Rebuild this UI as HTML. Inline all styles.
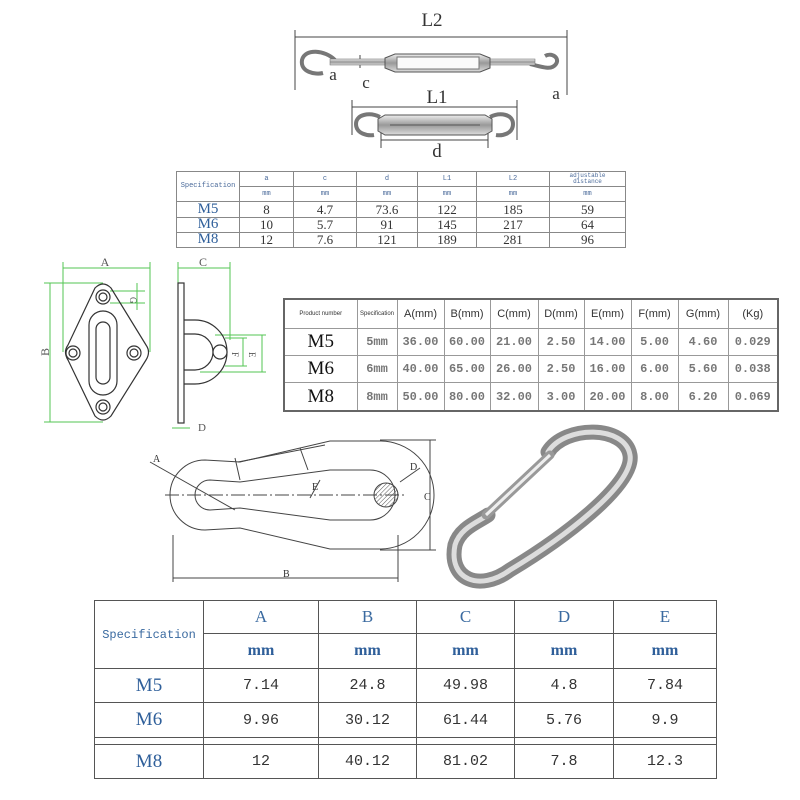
<!DOCTYPE html>
<html><head><meta charset="utf-8"><style>
body{margin:0;width:800px;height:800px;background:#fff;position:relative;overflow:hidden;font-family:"Liberation Serif","Noto Serif CJK SC",serif}
table{position:absolute;border-collapse:collapse;table-layout:fixed}
td{text-align:center;padding:0;overflow:hidden;white-space:nowrap}
#t1 td{border:1px solid #888;font-size:13px;color:#333;line-height:13px}
#t1 .h{color:#4a6a9a;font-family:"Liberation Mono",monospace;font-size:7px;line-height:7px}
#t1 .m{color:#2f5f9a;font-size:15px}
#t2{border:2px solid #666}
#t2 td{border:1px solid #999;font-size:12px;color:#777;font-family:"Liberation Mono",monospace;font-weight:bold}
#t2 .hd{font-family:"Liberation Sans",sans-serif;font-weight:normal;color:#333;font-size:11px}
#t2 .m{font-family:"Liberation Serif",serif;font-weight:normal;color:#111;font-size:19px}
#t3 td{border:1px solid #555;font-size:15px;color:#333;font-family:"Liberation Mono",monospace}
#t3 .h{color:#3a6aa0;font-family:"Liberation Serif",serif;font-size:17px}
#t3 .u{color:#2f5f9a;font-weight:bold;font-family:"Liberation Serif",serif;font-size:16px}
#t3 .m{color:#2f5f9a;font-family:"Liberation Serif",serif;font-size:19px}
</style></head><body>
<svg width="800" height="800" style="position:absolute;left:0;top:0">
<defs>
<linearGradient id="met" x1="0" y1="0" x2="0" y2="1"><stop offset="0" stop-color="#eee"/><stop offset=".5" stop-color="#999"/><stop offset="1" stop-color="#ddd"/></linearGradient>
<pattern id="hat" width="3" height="3" patternUnits="userSpaceOnUse" patternTransform="rotate(45)"><line x1="0" y1="0" x2="0" y2="3" stroke="#555" stroke-width="1"/></pattern>
</defs>
<g stroke="#444" stroke-width="1" fill="none">
<line x1="295" y1="37" x2="567" y2="37"/><line x1="295" y1="30" x2="295" y2="90"/><line x1="567" y1="30" x2="567" y2="95"/>
<line x1="352" y1="107" x2="517" y2="107"/><line x1="352" y1="100" x2="352" y2="135"/><line x1="517" y1="100" x2="517" y2="140"/>
<line x1="381" y1="140" x2="488" y2="140"/><line x1="381" y1="130" x2="381" y2="148"/><line x1="488" y1="130" x2="488" y2="148"/>
<line x1="360" y1="55" x2="360" y2="68"/>
</g>
<text x="432" y="26" font-size="19" text-anchor="middle" fill="#333">L2</text>
<text x="437" y="103" font-size="19" text-anchor="middle" fill="#333">L1</text>
<text x="437" y="157" font-size="19" text-anchor="middle" fill="#333">d</text>
<text x="333" y="80" font-size="17" text-anchor="middle" fill="#333">a</text>
<text x="366" y="88" font-size="17" text-anchor="middle" fill="#333">c</text>
<text x="556" y="99" font-size="17" text-anchor="middle" fill="#333">a</text>
<g stroke="#777" fill="none" stroke-width="4">
<path d="M335 60 C325 50,305 48,302 60 C300 72,315 75,323 73"/>
<path d="M530 64 C545 68,552 70,556 64 C560 58,552 52,545 56"/>
<path d="M380 117 C370 112,356 114,356 124 C356 134,368 136,374 135"/>
<path d="M490 117 C500 112,513 114,513 124 C513 134,502 136,496 135"/>
</g>
<rect x="330" y="59" width="60" height="6" fill="url(#met)" stroke="#666" stroke-width=".5"/>
<rect x="490" y="59" width="45" height="6" fill="url(#met)" stroke="#666" stroke-width=".5"/>
<path d="M385 58 L395 54 L480 54 L490 58 L490 68 L480 72 L395 72 L385 68Z" fill="url(#met)" stroke="#555"/>
<rect x="397" y="57" width="82" height="12" fill="#fafafa" stroke="#777"/>
<path d="M378 119 L385 115 L485 115 L492 119 L492 131 L485 135 L385 135 L378 131Z" fill="url(#met)" stroke="#555"/>
<line x1="390" y1="125" x2="480" y2="125" stroke="#555"/>
<g stroke="#53c653" stroke-width="1" fill="none">
<line x1="63" y1="268" x2="150" y2="268"/><line x1="63" y1="262" x2="63" y2="352"/><line x1="150" y1="262" x2="150" y2="352"/>
<line x1="50" y1="283" x2="50" y2="422"/><line x1="44" y1="283" x2="103" y2="283"/><line x1="44" y1="422" x2="103" y2="422"/>
<line x1="137" y1="283" x2="137" y2="310"/><line x1="110" y1="291" x2="145" y2="291"/><line x1="110" y1="303" x2="145" y2="303"/>
<line x1="178" y1="268" x2="230" y2="268"/><line x1="178" y1="262" x2="178" y2="283"/><line x1="230" y1="262" x2="230" y2="340"/>
<line x1="262" y1="335" x2="262" y2="372"/><line x1="215" y1="335" x2="266" y2="335"/><line x1="200" y1="372" x2="266" y2="372"/>
<line x1="243" y1="338" x2="243" y2="366"/><line x1="225" y1="338" x2="247" y2="338"/><line x1="225" y1="366" x2="247" y2="366"/>
<line x1="172" y1="428" x2="190" y2="428"/>
</g>
<text x="105" y="266" font-size="12" text-anchor="middle" fill="#555">A</text>
<text x="45" y="356" font-size="12" text-anchor="middle" fill="#555" transform="rotate(-90 45 352)">B</text>
<text x="203" y="266" font-size="12" text-anchor="middle" fill="#555">C</text>
<text x="198" y="431" font-size="11" fill="#555">D</text>
<text x="132" y="299" font-size="9" fill="#555" transform="rotate(90 132 297)">G</text>
<text x="236" y="356" font-size="9" fill="#555" transform="rotate(90 236 352)">F</text>
<text x="253" y="356" font-size="9" fill="#555" transform="rotate(90 253 352)">E</text>
<g stroke="#333" stroke-width="1.2" fill="none">
<path d="M95 288 Q103 280 111 288 L146 345 Q151 352 146 360 L111 416 Q103 424 95 416 L68 360 Q63 352 68 345Z"/>
<circle cx="103" cy="297" r="7"/><circle cx="103" cy="297" r="4"/>
<circle cx="103" cy="407" r="7"/><circle cx="103" cy="407" r="4"/>
<circle cx="73" cy="353" r="7"/><circle cx="73" cy="353" r="4"/>
<circle cx="134" cy="353" r="7"/><circle cx="134" cy="353" r="4"/>
<rect x="89" y="311" width="28" height="84" rx="14"/><rect x="96" y="322" width="14" height="62" rx="7"/>
<rect x="178" y="283" width="6" height="140"/>
<path d="M184 320 L195 320 A32 32 0 0 1 195 384 L184 384"/>
<path d="M184 334 L195 334 A18 18 0 0 1 195 370 L184 370"/>
<circle cx="220" cy="352" r="7" fill="#fff"/>
</g>
<g stroke="#444" stroke-width="1" fill="none">
<path d="M205 460 L240 462 L330 441 L380 441 A54 54 0 0 1 380 549 L330 549 L240 528 L205 530 A35 35 0 0 1 205 460Z"/>
<path d="M210 480 L240 482 L330 470 L370 470 A25 25 0 0 1 370 520 L330 520 L240 508 L210 510 A15 15 0 0 1 210 480Z"/>
<path d="M235 458 L240 480 M300 448 L308 470 M238 462 L325 445"/>
<line x1="165" y1="495" x2="405" y2="495" stroke-dasharray="14 3 2 3"/>
<line x1="173" y1="535" x2="173" y2="582"/><line x1="398" y1="535" x2="398" y2="582"/><line x1="173" y1="578" x2="398" y2="578"/>
<line x1="430" y1="440" x2="430" y2="550"/><line x1="380" y1="440" x2="436" y2="440"/><line x1="380" y1="550" x2="436" y2="550"/>
<line x1="150" y1="462" x2="235" y2="510"/>
<line x1="420" y1="468" x2="400" y2="482"/><line x1="320" y1="480" x2="310" y2="498"/>
</g>
<circle cx="386" cy="495" r="12" fill="url(#hat)" stroke="#444"/>
<text x="153" y="462" font-size="10" fill="#333">A</text>
<text x="283" y="577" font-size="10" fill="#333">B</text>
<text x="424" y="500" font-size="10" fill="#333">C</text>
<text x="410" y="470" font-size="10" fill="#333">D</text>
<text x="312" y="490" font-size="10" fill="#333">E</text>
<path d="M548 452 C565 425,625 425,630 455 C635 485,560 540,510 570 C480 592,448 580,455 545 C460 528,478 522,488 515" fill="none" stroke="#888" stroke-width="15" stroke-linecap="round"/>
<path d="M548 452 C565 425,625 425,630 455 C635 485,560 540,510 570 C480 592,448 580,455 545 C460 528,478 522,488 515" fill="none" stroke="#ddd" stroke-width="5" stroke-linecap="round"/>
<line x1="486" y1="515" x2="550" y2="455" stroke="#999" stroke-width="9" stroke-linecap="round"/>
<line x1="486" y1="515" x2="550" y2="455" stroke="#eee" stroke-width="3"/>
</svg>

<table id="t1" style="left:176px;top:171px;width:449px;height:77px">
<colgroup><col style="width:63px"><col style="width:54px"><col style="width:63px"><col style="width:61px"><col style="width:59px"><col style="width:73px"><col style="width:76px"></colgroup>
<tr style="height:15px"><td class="h" rowspan="2">Specification</td><td class="h">a</td><td class="h">c</td><td class="h">d</td><td class="h">L1</td><td class="h">L2</td><td class="h" style="font-size:6px;line-height:6px">adjustable<br>distance</td></tr>
<tr style="height:15px"><td class="h">mm</td><td class="h">mm</td><td class="h">mm</td><td class="h">mm</td><td class="h">mm</td><td class="h">mm</td></tr>
<tr style="height:15px"><td class="m">M5</td><td>8</td><td>4.7</td><td>73.6</td><td>122</td><td>185</td><td>59</td></tr>
<tr style="height:15px"><td class="m">M6</td><td>10</td><td>5.7</td><td>91</td><td>145</td><td>217</td><td>64</td></tr>
<tr style="height:15px"><td class="m">M8</td><td>12</td><td>7.6</td><td>121</td><td>189</td><td>281</td><td>96</td></tr>
</table>

<table id="t2" style="left:283px;top:298px;width:494px;height:114px">
<colgroup><col style="width:73px"><col style="width:40px"><col style="width:47px"><col style="width:46px"><col style="width:48px"><col style="width:46px"><col style="width:47px"><col style="width:47px"><col style="width:50px"><col style="width:50px"></colgroup>
<tr style="height:29px"><td class="hd" style="font-size:6px">Product number</td><td class="hd" style="font-size:6px">Specification</td><td class="hd">A(mm)</td><td class="hd">B(mm)</td><td class="hd">C(mm)</td><td class="hd">D(mm)</td><td class="hd">E(mm)</td><td class="hd">F(mm)</td><td class="hd">G(mm)</td><td class="hd">(Kg)</td></tr>
<tr><td class="m">M5</td><td>5mm</td><td>36.00</td><td>60.00</td><td>21.00</td><td>2.50</td><td>14.00</td><td>5.00</td><td>4.60</td><td>0.029</td></tr>
<tr><td class="m">M6</td><td>6mm</td><td>40.00</td><td>65.00</td><td>26.00</td><td>2.50</td><td>16.00</td><td>6.00</td><td>5.60</td><td>0.038</td></tr>
<tr><td class="m">M8</td><td>8mm</td><td>50.00</td><td>80.00</td><td>32.00</td><td>3.00</td><td>20.00</td><td>8.00</td><td>6.20</td><td>0.069</td></tr>
</table>

<table id="t3" style="left:94px;top:600px;width:622px;height:179px">
<colgroup><col style="width:109px"><col style="width:115px"><col style="width:98px"><col style="width:98px"><col style="width:99px"><col style="width:103px"></colgroup>
<tr style="height:33px"><td rowspan="2" style="color:#3a6aa0;font-size:12px">Specification</td><td class="h">A</td><td class="h">B</td><td class="h">C</td><td class="h">D</td><td class="h">E</td></tr>
<tr style="height:35px"><td class="u">mm</td><td class="u">mm</td><td class="u">mm</td><td class="u">mm</td><td class="u">mm</td></tr>
<tr style="height:34px"><td class="m">M5</td><td>7.14</td><td>24.8</td><td>49.98</td><td>4.8</td><td>7.84</td></tr>
<tr style="height:35px"><td class="m">M6</td><td>9.96</td><td>30.12</td><td>61.44</td><td>5.76</td><td>9.9</td></tr>
<tr style="height:7px"><td></td><td></td><td></td><td></td><td></td><td></td></tr>
<tr><td class="m">M8</td><td>12</td><td>40.12</td><td>81.02</td><td>7.8</td><td>12.3</td></tr>
</table>
</body></html>
